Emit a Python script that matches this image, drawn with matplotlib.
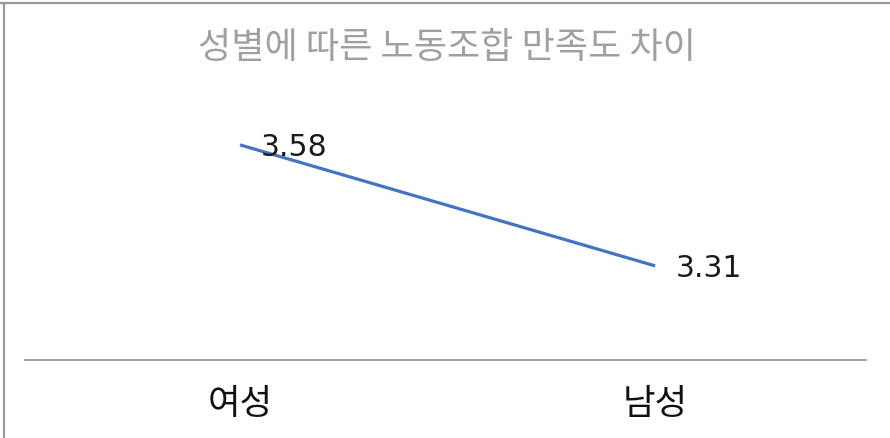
import matplotlib
matplotlib.use("Agg")
import matplotlib.pyplot as plt
from matplotlib.lines import Line2D

plt.rcParams["font.family"] = ["Noto Sans CJK KR", "DejaVu Sans"]

title = "성별에 따른 노동조합 만족도 차이"
categories = ["여성", "남성"]
values = [3.58, 3.31]

W, H = 890, 439
fig = plt.figure(figsize=(W / 100, H / 100), dpi=100)
fig.patch.set_facecolor("white")

# axes box in pixels: x 25..866, y 80..361 (from top)
ax = fig.add_axes([25 / W, (H - 361) / H, (866 - 25) / W, (361 - 80) / H])
ax.set_facecolor("none")

xs = list(range(len(categories)))
ax.plot(xs, values, color="#4472C4", linewidth=2.3, solid_capstyle="butt")

for x, v in zip(xs, values):
    ax.annotate(f"{v:.2f}", (x, v), xytext=(15, -1), textcoords="offset points",
                ha="left", va="center", fontsize=21.5, family="DejaVu Sans",
                color="#1a1a1a")

ax.set_xlim(-0.518, 1.508)
ax.set_ylim(3.1, 3.727)

ax.set_xticks(xs)
ax.set_xticklabels(categories, fontsize=25.5, color="#111111")
ax.tick_params(axis="x", length=0, pad=18)
ax.set_yticks([])

for side in ["top", "left", "right"]:
    ax.spines[side].set_visible(False)
ax.spines["bottom"].set_color("#a6a6a6")
ax.spines["bottom"].set_linewidth(1.5)

fig.text(447 / W, 1 - 48 / H, title, ha="center", va="center",
         fontsize=26, color="#a0a0a0", fontweight="light")

# outer frame (top and left edges visible in the source)
fig.add_artist(Line2D([0, 1], [1 - 4 / H, 1 - 4 / H], transform=fig.transFigure,
                      color="#9a9a9a", linewidth=1.6))
fig.add_artist(Line2D([4 / W, 4 / W], [0, 1 - 4 / H], transform=fig.transFigure,
                      color="#9a9a9a", linewidth=1.6))

fig.savefig("out.png", dpi=100)
